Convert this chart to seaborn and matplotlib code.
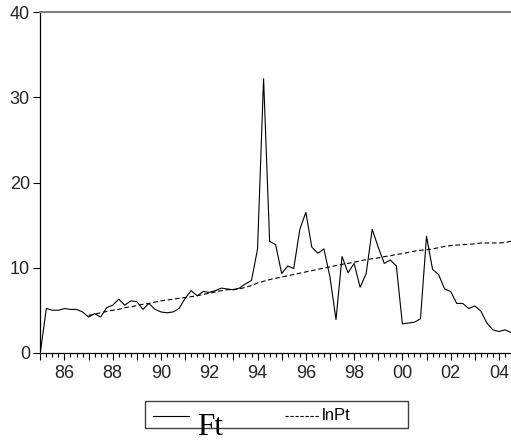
import matplotlib
matplotlib.use("Agg")
import matplotlib.pyplot as plt
from matplotlib.lines import Line2D
from matplotlib.patches import Rectangle
from matplotlib.ticker import MultipleLocator, FixedLocator
import numpy as np
import pandas as pd
import seaborn as sns

# quarterly, 1985Q1 .. 2004Q3
start_year = 1985
ft = [0.0, 5.2, 5.0, 5.0, 5.2, 5.1, 5.1, 4.8, 4.2, 4.6,
      4.2, 5.3, 5.6, 6.3, 5.6, 6.1, 6.0, 5.1, 5.8, 5.1,
      4.8, 4.7, 4.8, 5.2, 6.4, 7.3, 6.7, 7.2, 7.1, 7.3,
      7.6, 7.5, 7.4, 7.6, 8.1, 8.5, 12.2, 32.2, 13.1, 12.7,
      9.3, 10.2, 9.9, 14.5, 16.5, 12.4, 11.7, 12.2, 8.9, 3.9,
      11.3, 9.4, 10.5, 7.7, 9.3, 14.5, 12.4, 10.5, 10.9, 10.2,
      3.4, 3.5, 3.6, 4.0, 13.7, 9.8, 9.2, 7.5, 7.2, 5.8,
      5.8, 5.2, 5.5, 4.9, 3.5, 2.7, 2.5, 2.7, 2.4]

# lnPt starts in 1987Q1
lnpt_start = 8
lnpt = [4.4, 4.55, 4.7, 4.85, 5.0, 5.1, 5.3, 5.4, 5.55, 5.7,
        5.8, 5.95, 6.1, 6.2, 6.3, 6.4, 6.5, 6.6, 6.7, 6.85,
        7.0, 7.15, 7.3, 7.4, 7.45, 7.5, 7.7, 7.9, 8.2, 8.4,
        8.6, 8.75, 8.9, 9.05, 9.2, 9.35, 9.5, 9.65, 9.8, 9.95,
        10.1, 10.25, 10.4, 10.5, 10.65, 10.8, 10.95, 11.05, 11.15, 11.3,
        11.4, 11.55, 11.65, 11.8, 11.95, 12.05, 12.1, 12.2, 12.35, 12.5,
        12.6, 12.65, 12.7, 12.75, 12.8, 12.9, 12.9, 12.9, 12.9, 12.95,
        13.1]

t_ft = start_year + np.arange(len(ft)) / 4
t_ln = start_year + (lnpt_start + np.arange(len(lnpt))) / 4

df = pd.concat([
    pd.DataFrame({"t": t_ft, "value": ft, "series": "Ft"}),
    pd.DataFrame({"t": t_ln, "value": lnpt, "series": "lnPt"}),
], ignore_index=True)

sns.set_theme(style="ticks")
plt.rcParams["font.family"] = ["Liberation Sans", "DejaVu Sans"]

fig = plt.figure(figsize=(5.11, 4.41), dpi=100)
ax = fig.add_axes([40.3 / 511, 1 - 352.8 / 441, 1 - 40.3 / 511, (352.8 - 12.3) / 441])

sns.lineplot(data=df, x="t", y="value", hue="series", style="series",
             palette={"Ft": "black", "lnPt": "black"},
             dashes={"Ft": "", "lnPt": (4.2, 2.4)},
             estimator=None, linewidth=0.8, legend=False, ax=ax)

ax.set_xlim(1985, 2004.5)
ax.set_ylim(0, 40)
ax.set_xlabel("")
ax.set_ylabel("")

years = list(range(1985, 2005))
ax.xaxis.set_major_locator(FixedLocator(years))
ax.set_xticklabels([f"{y % 100:02d}" if y % 2 == 0 else "" for y in years])
ax.xaxis.set_minor_locator(MultipleLocator(0.25))
ax.set_yticks([0, 10, 20, 30, 40])

ax.tick_params(axis="x", which="major", length=5, width=0.8, pad=4.0,
               labelsize=13, color="black")
ax.tick_params(axis="x", which="minor", length=3, width=0.8, color="black")
ax.tick_params(axis="y", which="major", length=5, width=0.8, pad=2.5,
               labelsize=13, color="black")

ax.spines["right"].set_visible(False)
ax.spines["top"].set_color("#7f7f7f")
ax.spines["top"].set_linewidth(1.5)
ax.spines["left"].set_color("black")
ax.spines["left"].set_linewidth(0.9)
ax.spines["bottom"].set_color("black")
ax.spines["bottom"].set_linewidth(0.9)

# legend drawn by hand (the Ft label spills out of the box in the original)
W, H = 511, 441
fig.patches.append(Rectangle((145 / W, 1 - 428.3 / H), 262.7 / W, 27.3 / H,
                             transform=fig.transFigure, fill=False,
                             edgecolor="#404040", linewidth=1.0))
fig.lines.append(Line2D([153 / W, 189 / W], [1 - 415.7 / H] * 2,
                        transform=fig.transFigure, color="black", linewidth=0.8))
fig.lines.append(Line2D([285 / W, 319 / W], [1 - 415.7 / H] * 2,
                        transform=fig.transFigure, color="black", linewidth=0.8,
                        dashes=(2.9, 1.6)))
fig.text(196.7 / W, 1 - 435.2 / H, "Ft", family=["Liberation Serif", "DejaVu Serif"],
         fontsize=22.5, ha="left", va="baseline", color="black")
fig.text(322.3 / W, 1 - 416 / H, "lnPt", fontsize=12, ha="left", va="center",
         color="black")

fig.savefig("out.png", dpi=100)
